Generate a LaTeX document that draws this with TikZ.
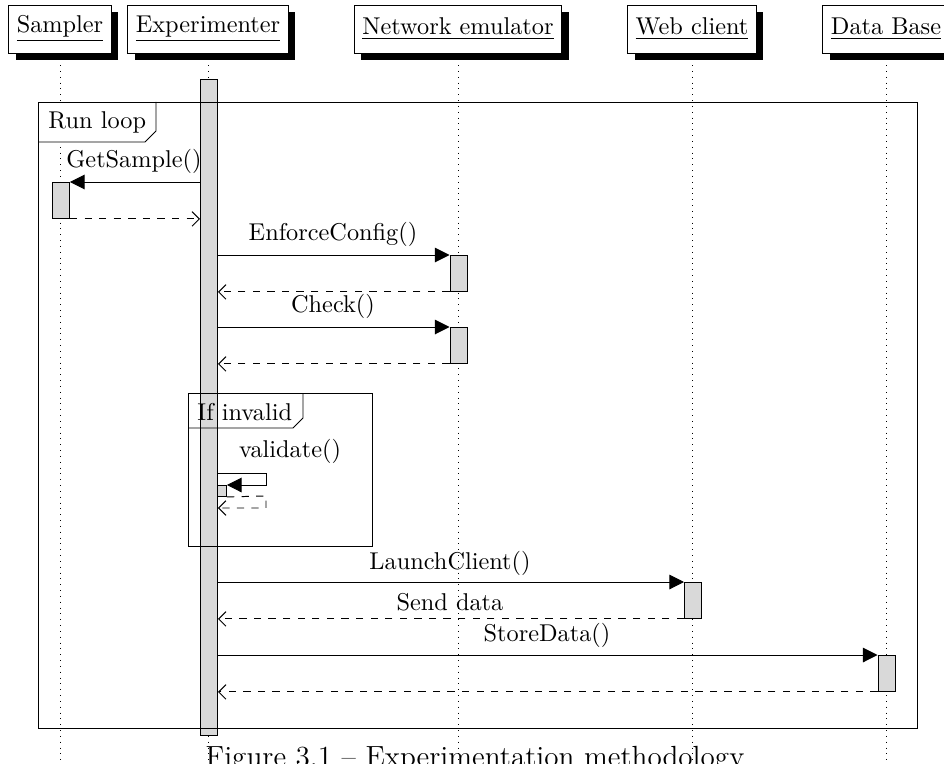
\documentclass[tikz,border=0pt]{standalone}
\usetikzlibrary{shadows,arrows.meta,backgrounds}
\begin{document}
\begin{tikzpicture}[x=0.4115pt,y=-0.4115pt,
  font=\fontsize{10}{12}\selectfont,
  obj/.style={draw,fill=white,inner xsep=3.3pt,minimum height=19.75pt,
    drop shadow={shadow xshift=2.9pt,shadow yshift=-2.9pt,fill=black,opacity=1}},
  act/.style={draw,fill=black!15,inner sep=0pt,minimum width=7pt,anchor=north west},
  life/.style={dotted},
  call/.style={-{Triangle[length=6pt,width=6pt]}},
  ret/.style={dashed,-{Straight Barb[length=3pt,width=6pt]}},
  lbl/.style={anchor=base,inner sep=0pt},
  flbl/.style={anchor=base west,inner sep=0pt},
]
\useasboundingbox (0,0) rectangle (944,763);
\clip (0,0) rectangle (944,763);

% headers
\node[obj] (sampler) at (60,29) {\underline{Sampler}};
\node[obj] (exper) at (208,29) {\underline{Experimenter}};
\node[obj] (netem) at (458,29) {\underline{Network emulator}};
\node[obj] (web) at (692,29) {\underline{Web client}};
\node[obj] (db) at (886,29) {\underline{Data Base}};

\coordinate (sampler-end) at (60,775);
\coordinate (exper-end) at (208,775);
\coordinate (netem-end) at (458,775);
\coordinate (web-end) at (692,775);
\coordinate (db-end) at (886,775);

\begin{pgfonlayer}{background}
\draw[life] (sampler.south) -- (sampler-end);
\draw[life] (exper.south) -- (exper-end);
\draw[life] (netem.south) -- (netem-end);
\draw[life] (web.south) -- (web-end);
\draw[life] (db.south) -- (db-end);
\end{pgfonlayer}

% frame labels (white)
\fill[white] (38,102) -- (38,142) -- (145,142) -- (156,131) -- (156,102) -- cycle;
\fill[white] (188,393) -- (188,428) -- (293,428) -- (303,418) -- (303,393) -- cycle;

% activations
\node[act,minimum height=270pt] (expbar) at (200,79) {};
\node[act,minimum height=14.8pt] (sa1) at (52,182) {};
\node[act,minimum height=14.8pt] (ne1) at (449.5,255) {};
\node[act,minimum height=14.8pt] (ne2) at (449.5,327) {};
\node[act,minimum height=14.8pt] (wc1) at (684,582) {};
\node[act,minimum height=14.8pt] (db1) at (877.5,655) {};
\node[act,minimum width=3.7pt,minimum height=4.5pt] (ex2) at (217,485) {};

% frames
\draw (38,102) rectangle (917,728);
\draw (38,142) -- (145,142) -- (156,131) -- (156,102);
\node[flbl] (runloop) at (48,128) {Run loop};
\draw (188,393) rectangle (372,546);
\draw (188,428) -- (293,428) -- (303,418) -- (303,393);
\node[flbl] (ifinv) at (197,420) {If invalid};

% GetSample
\draw[call] (expbar.west |- sa1.north east) -- (sa1.north east);
\node[lbl] (lgs) at (134,167) {GetSample()};
\draw[ret] (sa1.south east) -- (expbar.west |- sa1.south east);

% EnforceConfig
\draw[call] (expbar.east |- ne1.north west) -- (ne1.north west);
\node[lbl] (lec) at (333,240) {EnforceConfig()};
\draw[ret] (ne1.south west) -- (expbar.east |- ne1.south west);

% Check
\draw[call] (expbar.east |- ne2.north west) -- (ne2.north west);
\node[lbl] (lck) at (333,312) {Check()};
\draw[ret] (ne2.south west) -- (expbar.east |- ne2.south west);

% validate
\coordinate (sc1) at (266,473);
\coordinate (sc2) at (266,485);
\coordinate (sc3) at (266,496);
\coordinate (sc4) at (266,508);
\node[lbl] (lva) at (290,457) {validate()};
\draw[call] (expbar.east |- sc1) -- (sc1) -- (sc2) -- (ex2.north east);
\draw[ret] (ex2.south east) -- (sc3) -- (sc4) -- (expbar.east |- sc4);

% LaunchClient
\draw[call] (expbar.east |- wc1.north west) -- (wc1.north west);
\node[lbl] (llc) at (450,569) {LaunchClient()};
\draw[ret] (wc1.south west) -- (expbar.east |- wc1.south west);
\node[lbl] (lsd) at (450,610) {Send data};

% StoreData
\draw[call] (expbar.east |- db1.north west) -- (db1.north west);
\node[lbl] (lst) at (547,641) {StoreData()};
\draw[ret] (db1.south west) -- (expbar.east |- db1.south west);

% caption
\node[lbl,font=\fontsize{12}{14}\selectfont] (cap) at (475,766) {Figure 3.1 -- Experimentation methodology};
\end{tikzpicture}
\end{document}
